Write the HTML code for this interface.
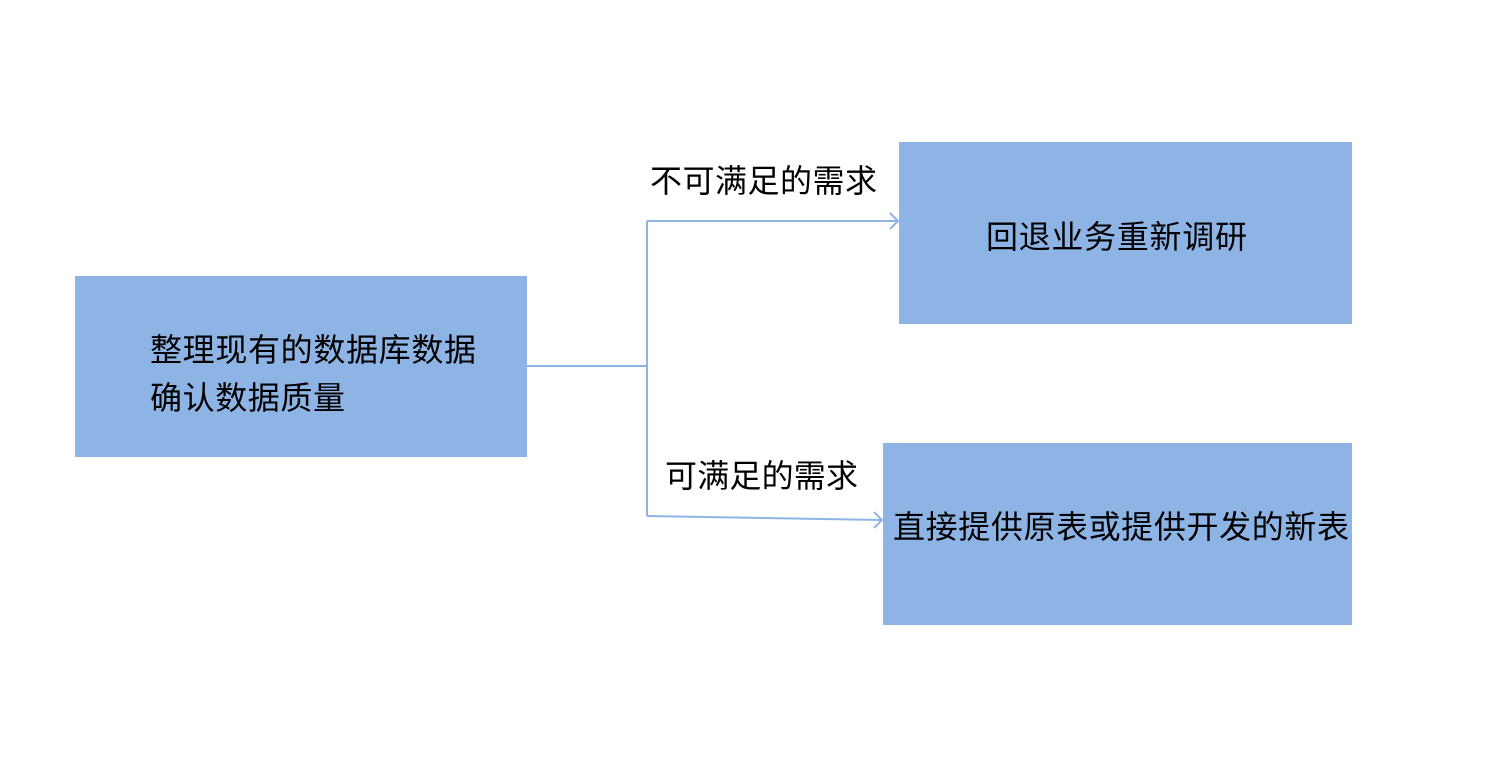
<!DOCTYPE html>
<html><head><meta charset="utf-8"><style>
html,body{margin:0;padding:0;background:#fff;}
svg{display:block;}
text{font-family:"Liberation Sans","Noto Sans CJK SC",sans-serif;font-size:32px;fill:#000;}
</style></head><body>
<svg width="1504" height="774" viewBox="0 0 1504 774">
<rect x="75" y="276" width="452" height="181" fill="#8DB4E5"/>
<rect x="899" y="142" width="453" height="182" fill="#8DB4E5"/>
<rect x="883" y="443" width="469" height="182" fill="#8DB4E5"/>
<g stroke="#8DB4E5" stroke-width="2" fill="none">
<path d="M527 366 H647"/>
<path d="M647 221 V516"/>
<path d="M647 221 H898"/>
<path d="M890 213 L898 221 L890 229"/>
<path d="M647 516 L882 520"/>
<path d="M874 512 L882 520 L874 528"/>
</g>
<text x="150" y="361" textLength="326">整理现有的数据库数据</text>
<text x="150" y="409" textLength="195">确认数据质量</text>
<text x="650" y="192" textLength="227">不可满足的需求</text>
<text x="665" y="487" textLength="193">可满足的需求</text>
<text x="986" y="248" textLength="261">回退业务重新调研</text>
<text x="893" y="538" textLength="456">直接提供原表或提供开发的新表</text>
</svg>
</body></html>
